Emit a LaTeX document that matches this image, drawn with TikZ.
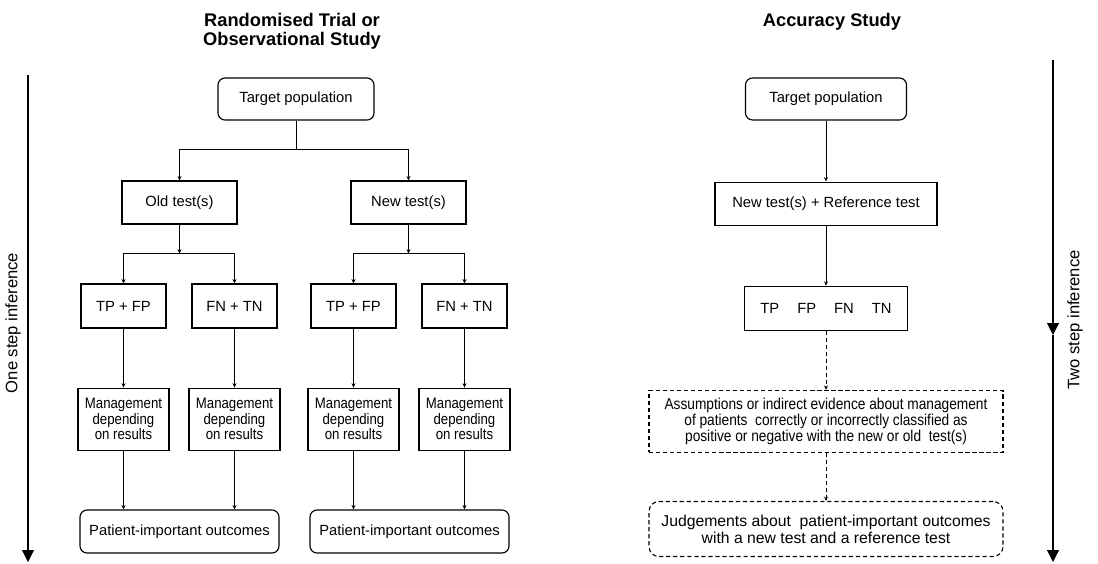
\documentclass[tikz,border=0pt]{standalone}
\usepackage{fontspec}
\setmainfont{Liberation Sans}
\newfontfamily\narrowfont{Liberation Sans}[FakeStretch=0.87]
\usepackage{tikz}
\usetikzlibrary{arrows.meta, positioning, calc}
\tikzstyle{box}      = [rectangle, draw=black, line width=0.8pt, text centered, inner sep=2pt, font=\fontsize{10.5}{12.6}\selectfont]
\tikzstyle{roundbox} = [box, rounded corners=5pt]
\tikzstyle{mgmtbox}  = [box, minimum width=2.275cm, minimum height=1.55cm, align=center, font=\narrowfont\fontsize{10.8}{10}\selectfont]
\tikzstyle{dotbox}   = [box, densely dashed, minimum width=8.85cm, align=center]
\tikzstyle{arrow}    = [line width=0.5pt, -{Stealth[length=1.1mm, width=1mm]}]
\tikzstyle{dotarrow} = [arrow, densely dashed]
\tikzstyle{axis}     = [line width=0.8pt, -{Triangle[length=0.3cm, width=0.3cm]}]
\tikzstyle{title}    = [font=\bfseries\fontsize{13}{13.5}\selectfont, align=center]
\tikzstyle{sidelabel} = [rotate=90, font=\fontsize{11.8}{13}\selectfont]

\begin{document}
\begin{tikzpicture}
  \useasboundingbox (0,0) rectangle (27.45,-14.075);

  % Titles
  \node[title, anchor=north] (ltitle) at (7.3,-0.2) {Randomised Trial or\\Observational Study};
  \node[title, anchor=north] (rtitle) at (20.8,-0.2) {Accuracy Study};

  % Left: randomised trial
  \node[roundbox, minimum width=3.9cm, minimum height=1.05cm] (ltarget) at (7.4,-2.475) {Target population};
  \node[box, minimum width=2.875cm, minimum height=1.075cm] (oldtest) at (4.4875,-5.0625) {Old test(s)};
  \node[box, minimum width=2.875cm, minimum height=1.075cm] (newtest) at (10.2125,-5.0625) {New test(s)};

  \node[box, minimum width=2.125cm, minimum height=1.1cm] (otp) at (3.0875,-7.65) {TP + FP};
  \node[box, minimum width=2.125cm, minimum height=1.1cm] (ofn) at (5.8625,-7.65) {FN + TN};
  \node[box, minimum width=2.125cm, minimum height=1.1cm] (ntp) at (8.8375,-7.65) {TP + FP};
  \node[box, minimum width=2.125cm, minimum height=1.1cm] (nfn) at (11.6125,-7.65) {FN + TN};

  \node[mgmtbox, below=1.475cm of otp] (otpmgmt) {Management\\depending\\on results};
  \node[mgmtbox, below=1.475cm of ofn] (ofnmgmt) {Management\\depending\\on results};
  \node[mgmtbox, below=1.475cm of ntp] (ntpmgmt) {Management\\depending\\on results};
  \node[mgmtbox, below=1.475cm of nfn] (nfnmgmt) {Management\\depending\\on results};

  \node[roundbox, minimum width=4.975cm, minimum height=1.075cm] (oldout) at (4.4875,-13.2875) {Patient-important outcomes};
  \node[roundbox, minimum width=4.975cm, minimum height=1.075cm] (newout) at (10.2375,-13.2875) {Patient-important outcomes};

  % Left connectors
  \coordinate (lsplit) at ($(ltarget.south)+(0,-0.725)$);
  \coordinate (osplit) at ($(oldtest.south)+(0,-0.725)$);
  \coordinate (nsplit) at ($(newtest.south)+(0,-0.725)$);
  \draw[line width=0.5pt] (ltarget) -- (lsplit);
  \draw[arrow] (lsplit) -| (oldtest);
  \draw[arrow] (lsplit) -| (newtest);
  \draw[arrow] (oldtest) -- (osplit);
  \draw[arrow] (osplit) -| (otp);
  \draw[arrow] (osplit) -| (ofn);
  \draw[arrow] (newtest) -- (nsplit);
  \draw[arrow] (nsplit) -| (ntp);
  \draw[arrow] (nsplit) -| (nfn);
  \draw[arrow] (otp) -- (otpmgmt);
  \draw[arrow] (ofn) -- (ofnmgmt);
  \draw[arrow] (ntp) -- (ntpmgmt);
  \draw[arrow] (nfn) -- (nfnmgmt);
  \draw[arrow] (otpmgmt) -- (otpmgmt |- oldout.north);
  \draw[arrow] (ofnmgmt) -- (ofnmgmt |- oldout.north);
  \draw[arrow] (ntpmgmt) -- (ntpmgmt |- newout.north);
  \draw[arrow] (nfnmgmt) -- (nfnmgmt |- newout.north);

  % Right: accuracy study
  \node[roundbox, minimum width=4.025cm, minimum height=1.05cm] (rtarget) at (20.65,-2.475) {Target population};
  \node[box, minimum width=5.55cm, minimum height=1.075cm, below=1.525cm of rtarget] (rtests) {New test(s) + Reference test};
  \node[box, minimum width=4.075cm, minimum height=1.1cm, below=1.5cm of rtests] (rclass) {TP\hspace{4.5mm}FP\hspace{4.5mm}FN\hspace{4.5mm}TN};
  \node[dotbox, minimum height=1.55cm, font=\narrowfont\fontsize{11.2}{10}\selectfont, below=1.475cm of rclass] (rassume) {Assumptions or indirect evidence about management\\of patients\ \ correctly or incorrectly classified as\\positive or negative with the new or old\ \ test(s)};
  \node[dotbox, rounded corners=7pt, minimum height=1.375cm, font=\fontsize{11.2}{12}\selectfont, below=1.2cm of rassume] (rjudge) {Judgements about\ \ patient-important outcomes\\with a new test and a reference test};

  \draw[arrow] (rtarget) -- (rtests);
  \draw[arrow] (rtests) -- (rclass);
  \draw[dotarrow] (rclass) -- (rassume);
  \draw[dotarrow] (rassume) -- (rjudge);

  % Inference axes
  \coordinate (ltop) at (0.7,-1.875);
  \coordinate (lbot) at (0.7,-14.05);
  \draw[axis] (ltop) -- (lbot);
  \node[sidelabel] (lstep) at (0.325,-8.075) {One step inference};

  \coordinate (rtop) at (26.325,-1.5);
  \coordinate (rmid) at (26.325,-8.375);
  \coordinate (rbot) at (26.325,-14.05);
  \draw[axis] (rtop) -- (rmid);
  \draw[axis] (rmid) -- (rbot);
  \node[sidelabel] (rstep) at (26.875,-8.0) {Two step inference};
\end{tikzpicture}
\end{document}
